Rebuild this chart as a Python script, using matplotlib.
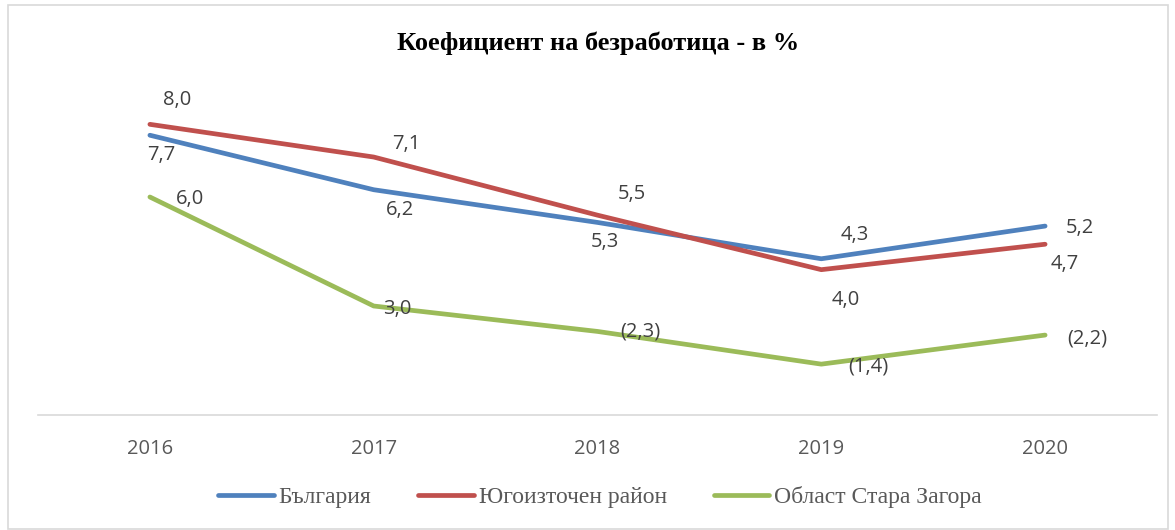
import matplotlib.pyplot as plt
from matplotlib.patches import Rectangle

years = ['2016', '2017', '2018', '2019', '2020']
bulgaria = [7.7, 6.2, 5.3, 4.3, 5.2]
yugoiztochen = [8.0, 7.1, 5.5, 4.0, 4.7]
stara_zagora = [6.0, 3.0, 2.3, 1.4, 2.2]

bulgaria_labels = ['7,7', '6,2', '5,3', '4,3', '5,2']
yugoiztochen_labels = ['8,0', '7,1', '5,5', '4,0', '4,7']
stara_zagora_labels = ['6,0', '3,0', '(2,3)', '(1,4)', '(2,2)']

series_names = ['България', 'Югоизточен район', 'Област Стара Загора']
colors = ['#4F81BD', '#C0504D', '#9BBB59']

fig = plt.figure(figsize=(11.75, 5.3), dpi=100)
fig.patches.append(Rectangle((8 / 1175, 0.002), 1160 / 1175, 1 - 4 / 530 - 0.004,
                             transform=fig.transFigure, fill=False,
                             edgecolor='#D9D9D9', linewidth=1.2))

ax = fig.add_axes([38 / 1175, (530 - 415) / 530, (1157 - 38) / 1175, (415 - 88) / 530])
x = list(range(len(years)))

all_series = [bulgaria, yugoiztochen, stara_zagora]
all_labels = [bulgaria_labels, yugoiztochen_labels, stara_zagora_labels]
# label offsets in pixels (dx, dy), per point
offsets = [
    [(11, -20), (26, -20), (7, -20), (34, 24), (35, -2)],
    [(27, 24), (33, 13), (34, 21), (24, -30), (20, -20)],
    [(40, -2), (24, -3), (43, 0), (47, -2), (42, -3)],
]

lines = []
for vals, labs, offs, c, name in zip(all_series, all_labels, offsets, colors, series_names):
    ln, = ax.plot(x, vals, color=c, linewidth=3.4, solid_capstyle='round',
                  solid_joinstyle='round', label=name)
    lines.append(ln)
    for xi, v, lab, (dx, dy) in zip(x, vals, labs, offs):
        ax.annotate(lab, (xi, v), xytext=(dx, dy), textcoords='offset pixels',
                    ha='center', va='center', fontsize=14.5, color='#404040',
                    family='Open Sans')

ax.set_xlim(-0.5, 4.5)
ax.set_ylim(0, 9)
ax.set_xticks(x)
ax.set_xticklabels(years, fontsize=14.5, color='#595959', family='Open Sans')
ax.tick_params(axis='x', length=0, pad=17)
ax.set_yticks([])
for s in ['left', 'right', 'top']:
    ax.spines[s].set_visible(False)
ax.spines['bottom'].set_color('#D9D9D9')
ax.spines['bottom'].set_linewidth(1.2)

fig.text(598 / 1175, 1 - 43 / 530, 'Коефициент на безработица - в %', ha='center', va='center',
         fontsize=19, fontweight='bold', family='Liberation Serif')

fig.legend(handles=lines, loc='center', bbox_to_anchor=(600 / 1175, 1 - 497 / 530), ncol=3,
           frameon=False, handlelength=2.35, handletextpad=0.2, columnspacing=2.0,
           prop={'family': 'Liberation Serif', 'size': 17})
for t in fig.legends[0].get_texts():
    t.set_color('#595959')

fig.savefig('out.png', dpi=100)
